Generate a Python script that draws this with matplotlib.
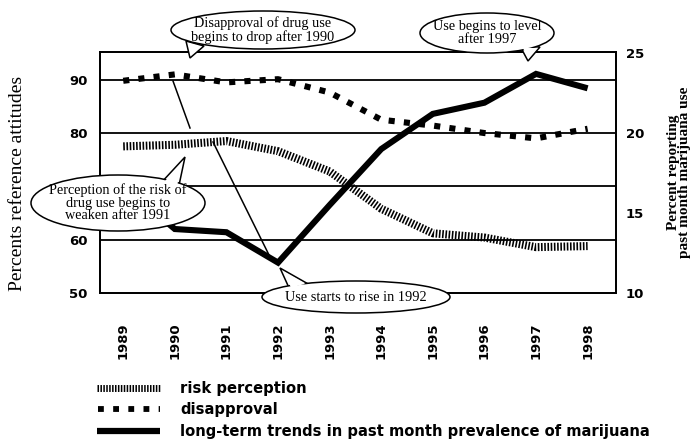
import matplotlib
matplotlib.use("Agg")
import matplotlib.pyplot as plt
from matplotlib.patches import Ellipse, Polygon
import numpy as np

years = [1989, 1990, 1991, 1992, 1993, 1994, 1995, 1996, 1997, 1998]
risk_perception = [77.5, 77.8, 78.5, 76.6, 72.8, 65.8, 61.2, 60.4, 58.6, 58.8]
disapproval = [89.8, 91.0, 89.5, 90.1, 87.6, 82.5, 81.4, 80.0, 79.0, 80.8]
marijuana = [16.7, 14.0, 13.8, 11.9, 15.5, 19.0, 21.2, 21.9, 23.7, 22.8]

left_ticks = [50, 60, 70, 80, 90]
left_labels = ["50", "60", "", "80", "90"]
right_ticks = [10, 15, 20, 25]
legend_labels = ["risk perception", "disapproval",
                 "long-term trends in past month prevalence of marijuana"]

W, H = 693, 444
fig = plt.figure(figsize=(W / 100, H / 100), dpi=100)
L, R, T, B = 100, 616, 52, 293
ax = fig.add_axes([L / W, 1 - B / H, (R - L) / W, (B - T) / H])
ax2 = ax.twinx()

tickfont = dict(family="DejaVu Sans", weight="bold", size=9.5)

ax.set_xlim(1988.55, 1998.55)
ax.set_ylim(50, 95.2)
ax2.set_ylim(10, 25.07)

for y in left_ticks[1:]:
    ax.axhline(y, color="black", lw=1.3, zorder=1)

ax.plot(years, risk_perception, color="black", lw=5.8, dashes=(0.2, 0.2),
        dash_capstyle="butt", solid_capstyle="butt", zorder=3)
ax.plot(years, disapproval, color="black", lw=4.4, dashes=(1.0, 1.5),
        dash_capstyle="butt", zorder=3)
ax2.plot(years, marijuana, color="black", lw=4.4, solid_capstyle="butt",
         solid_joinstyle="miter", zorder=3)

ax.set_xticks(years)
ax.set_xticklabels([str(y) for y in years], rotation=90, **tickfont)
ax.set_yticks(left_ticks)
ax.set_yticklabels(left_labels, **tickfont)
ax2.set_yticks(right_ticks)
ax2.set_yticklabels([str(v) for v in right_ticks], **tickfont)
ax.tick_params(axis="x", length=0, pad=21)
ax.tick_params(axis="y", length=0, pad=9)
ax2.tick_params(axis="y", length=0, pad=7)
for a in (ax, ax2):
    for s in a.spines.values():
        s.set_linewidth(1.3)
ax.patch.set_visible(False)

fig.text(18 / W, 1 - 183 / H, "Percents reference attitudes", rotation=90,
         ha="center", va="center", family="Liberation Serif", size=14)
fig.text(679 / W, 1 - 172 / H, "Percent reporting\npast month marijuana use",
         rotation=90, ha="center", va="center", family="Liberation Serif",
         weight="bold", size=11, linespacing=0.88)

# overlay in pixel coordinates for callouts and legend
ov = fig.add_axes([0, 0, 1, 1], zorder=10)
ov.set_xlim(0, W)
ov.set_ylim(H, 0)
ov.axis("off")
ov.patch.set_visible(False)

serif = dict(family="Liberation Serif", size=10.3, ha="center", va="center",
             linespacing=0.95)


def bubble(cx, cy, w, h, tail, text):
    base1, base2, tip = tail
    tri = np.array([base1, base2, tip], dtype=float)
    ov.add_patch(Polygon(tri, closed=True, fc="white", ec="black", lw=1.1, zorder=2))
    ov.add_patch(Ellipse((cx, cy), w, h, fc="white", ec="black", lw=1.1, zorder=3))
    c = tri.mean(axis=0)
    inner = c + (tri - c) * 0.72
    ov.add_patch(Polygon(inner, closed=True, fc="white", ec="none", zorder=4))
    ov.text(cx, cy, text, zorder=5, **serif)


# connector lines
ov.plot([173, 190], [81, 128], color="black", lw=1.1, zorder=1)
ov.plot([213, 270], [142, 257], color="black", lw=1.1, zorder=1)

bubble(263, 30, 184, 38, [(186, 41), (204, 46), (190, 58)],
       "Disapproval of drug use\nbegins to drop after 1990")
bubble(487, 33, 134, 40, [(520, 46), (540, 47), (528, 61)],
       "Use begins to level\nafter 1997")
bubble(118, 203, 174, 56, [(160, 184), (178, 190), (185, 157)],
       "Perception of the risk of\ndrug use begins to\nweaken after 1991")
bubble(356, 297, 188, 32, [(290, 290), (310, 285), (280, 268)],
       "Use starts to rise in 1992")

# legend
legfont = dict(family="DejaVu Sans", weight="bold", size=10.6, va="center")
ov.plot([97, 160], [388, 388], color="black", lw=5, dashes=(0.22, 0.2),
        dash_capstyle="butt")
ov.plot([98, 160], [409, 409], color="black", lw=4.2, dashes=(1.0, 1.6),
        dash_capstyle="butt")
ov.plot([97, 160], [431, 431], color="black", lw=4.5, solid_capstyle="butt")
for yy, lab in zip([388, 409, 431], legend_labels):
    ov.text(180, yy, lab, **legfont)

fig.savefig("out.png", dpi=100)
